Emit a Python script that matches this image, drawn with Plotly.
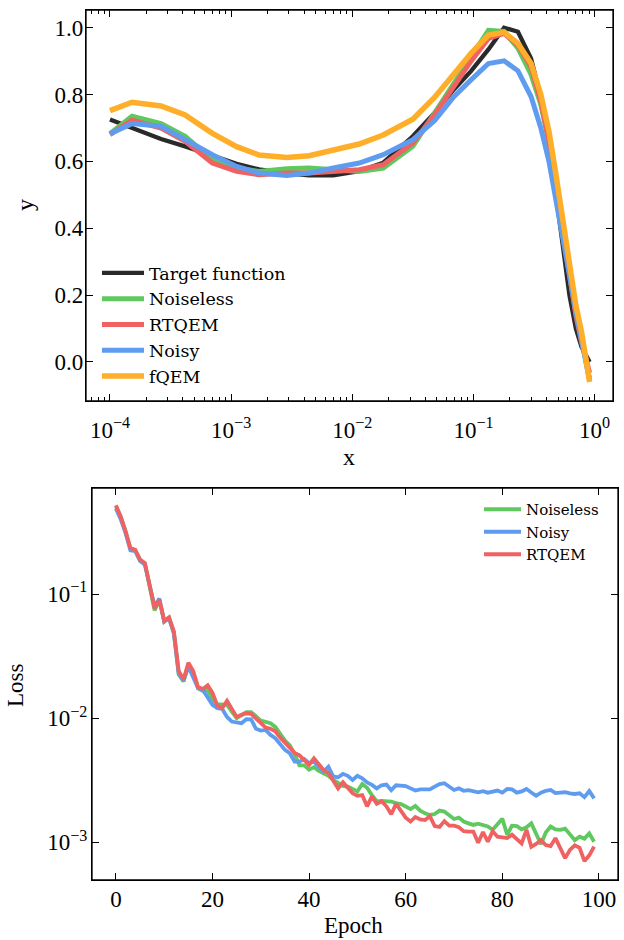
import plotly.graph_objects as go

# ---------------- Top panel data ----------------
x_vals = [1.0e-4, 1.52e-4, 2.64e-4, 4.17e-4, 7.0e-4, 1.11e-3, 1.70e-3, 2.88e-3, 4.41e-3,
          6.97e-3, 1.14e-2, 1.80e-2, 3.16e-2, 4.79e-2, 6.92e-2, 9.55e-2, 0.133, 0.179,
          0.233, 0.299, 0.36, 0.42, 0.48, 0.55, 0.62, 0.70, 0.78, 0.85, 0.91]
target = [0.725, 0.700, 0.667, 0.645, 0.616, 0.593, 0.576, 0.564, 0.558, 0.558, 0.571,
          0.596, 0.675, 0.746, 0.816, 0.870, 0.935, 1.000, 0.988, 0.908, 0.79, 0.655,
          0.50, 0.35, 0.20, 0.10, 0.045, 0.02, 0.0]
noiseless = [0.683, 0.735, 0.713, 0.675, 0.605, 0.580, 0.570, 0.578, 0.580, 0.575, 0.570,
             0.580, 0.645, 0.745, 0.835, 0.915, 0.992, 0.989, 0.939, 0.86, 0.77, 0.66,
             0.53, 0.39, 0.26, 0.15, 0.07, 0.0, -0.053]
rtqem = [0.680, 0.723, 0.700, 0.660, 0.595, 0.570, 0.560, 0.565, 0.565, 0.570, 0.575,
         0.590, 0.655, 0.740, 0.825, 0.900, 0.968, 0.983, 0.948, 0.883, 0.78, 0.66,
         0.52, 0.375, 0.25, 0.14, 0.06, 0.01, -0.033]
noisy = [0.683, 0.713, 0.705, 0.665, 0.620, 0.585, 0.565, 0.558, 0.565, 0.580, 0.595,
         0.620, 0.665, 0.722, 0.794, 0.844, 0.893, 0.901, 0.871, 0.794, 0.70, 0.60,
         0.49, 0.37, 0.26, 0.15, 0.07, 0.0, -0.055]
fqem = [0.752, 0.777, 0.766, 0.739, 0.684, 0.644, 0.619, 0.612, 0.617, 0.632, 0.652,
        0.679, 0.726, 0.792, 0.862, 0.923, 0.978, 0.986, 0.953, 0.893, 0.80, 0.69,
        0.56, 0.42, 0.29, 0.17, 0.09, 0.01, -0.06]

x_tickvals = [1e-4, 1e-3, 1e-2, 1e-1, 1e0]
x_ticktext = ["10<sup>\u22124</sup>", "10<sup>\u22123</sup>", "10<sup>\u22122</sup>",
              "10<sup>\u22121</sup>", "10<sup>0</sup>"]
y_tickvals = [0.0, 0.2, 0.4, 0.6, 0.8, 1.0]
y_ticktext = ["0.0", "0.2", "0.4", "0.6", "0.8", "1.0"]

# ---------------- Bottom panel data ----------------
epochs = list(range(100))
loss_noiseless = [0.51, 0.42, 0.32, 0.232, 0.226, 0.188, 0.176, 0.118, 0.074, 0.089,
                  0.060, 0.064, 0.049, 0.0225, 0.0198, 0.027, 0.0235, 0.0174, 0.0166, 0.0170,
                  0.0141, 0.0130, 0.0128, 0.0128, 0.0113, 0.0100, 0.0106, 0.0112, 0.0112, 0.0104,
                  0.00955, 0.00933, 0.00912, 0.00851, 0.00741, 0.00661, 0.00603, 0.00513, 0.00417, 0.00417,
                  0.00385, 0.00403, 0.00376, 0.00361, 0.00343, 0.00318, 0.00302, 0.00285, 0.00281, 0.00266,
                  0.00257, 0.00295, 0.00275, 0.00240, 0.00214, 0.00215, 0.00215, 0.00213, 0.00207, 0.00203,
                  0.00194, 0.00185, 0.00196, 0.00180, 0.00171, 0.00166, 0.00169, 0.00180, 0.00177, 0.00166,
                  0.00154, 0.00158, 0.00147, 0.00142, 0.00138, 0.00141, 0.00137, 0.00134, 0.00126, 0.00141,
                  0.00155, 0.00115, 0.00136, 0.00135, 0.00127, 0.00132, 0.00142, 0.00117, 0.000966, 0.00120,
                  0.00134, 0.00127, 0.00126, 0.00129, 0.00117, 0.00104, 0.00111, 0.00107, 0.00118, 0.00101]
loss_noisy = [0.49, 0.40, 0.31, 0.225, 0.222, 0.185, 0.172, 0.118, 0.080, 0.092,
              0.060, 0.064, 0.048, 0.023, 0.020, 0.026, 0.021, 0.0175, 0.0169, 0.0145,
              0.0128, 0.01205, 0.01189, 0.01023, 0.0094, 0.00923, 0.00912, 0.00982, 0.00977, 0.00822,
              0.00794, 0.00804, 0.00733, 0.00690, 0.00610, 0.00555, 0.00522, 0.00447, 0.00447, 0.00468,
              0.00434, 0.00447, 0.00407, 0.00372, 0.00407, 0.00339, 0.00334, 0.00356, 0.00343, 0.00318,
              0.00343, 0.00328, 0.00303, 0.00290, 0.00272, 0.00288, 0.00292, 0.00263, 0.00288, 0.00284,
              0.00284, 0.00272, 0.00261, 0.00267, 0.00269, 0.00267, 0.00281, 0.00294, 0.00299, 0.00281,
              0.00264, 0.00272, 0.00260, 0.00263, 0.00256, 0.00253, 0.00258, 0.00251, 0.00256, 0.00261,
              0.00251, 0.00269, 0.00267, 0.00251, 0.00257, 0.00269, 0.00252, 0.00237, 0.00251, 0.00260,
              0.00264, 0.00249, 0.00251, 0.00253, 0.00248, 0.00245, 0.00248, 0.00231, 0.00259, 0.00226]
loss_rtqem = [0.52, 0.42, 0.32, 0.235, 0.228, 0.190, 0.178, 0.120, 0.077, 0.090,
              0.061, 0.065, 0.050, 0.024, 0.0205, 0.028, 0.024, 0.0178, 0.0172, 0.0184,
              0.0160, 0.0126, 0.0120, 0.0138, 0.01167, 0.01023, 0.01064, 0.01096, 0.01084, 0.0100,
              0.00923, 0.00841, 0.00822, 0.00785, 0.00700, 0.00631, 0.00575, 0.00525, 0.00501, 0.00457,
              0.00421, 0.00475, 0.00421, 0.00383, 0.00361, 0.00318, 0.00272, 0.00305, 0.00272, 0.00248,
              0.00237, 0.00240, 0.00195, 0.00234, 0.00204, 0.00214, 0.00195, 0.00168, 0.00204, 0.00180,
              0.00158, 0.00147, 0.00160, 0.00153, 0.00151, 0.00162, 0.00135, 0.00133, 0.00148, 0.00136,
              0.00136, 0.00132, 0.00123, 0.00122, 0.00122, 0.00099, 0.00121, 0.00101, 0.00123, 0.00111,
              0.00110, 0.00108, 0.00115, 0.00106, 0.00098, 0.00126, 0.00092, 0.00097, 0.00104, 0.00095,
              0.00093, 0.00108, 0.00088, 0.000745, 0.000867, 0.000944, 0.000902, 0.000705, 0.000785, 0.000923]

loss_tickvals = [1e-3, 1e-2, 1e-1]
loss_ticktext = ["10<sup>\u22123</sup>", "10<sup>\u22122</sup>", "10<sup>\u22121</sup>"]
epoch_tickvals = [0, 20, 40, 60, 80, 100]

# ---------------- Styles ----------------
C_TARGET = "#2a2a2a"
C_GREEN = "#5fc85f"
C_RED = "#f06262"
C_BLUE = "#5f9cf0"
C_ORANGE = "#ffae2a"
FONT = "Liberation Serif"
LEGFONT = "DejaVu Serif"

minor_x = [m * 10.0 ** p for p in range(-5, 1) for m in range(2, 10)]

fig = go.Figure()
top = [("Target function", target, C_TARGET, 4.3),
       ("Noiseless", noiseless, C_GREEN, 5.0),
       ("RTQEM", rtqem, C_RED, 5.0),
       ("Noisy", noisy, C_BLUE, 5.0),
       ("fQEM", fqem, C_ORANGE, 5.5)]
for name, ys, col, w in top:
    fig.add_trace(go.Scatter(x=x_vals, y=ys, mode="lines", name=name,
                             line=dict(color=col, width=w),
                             xaxis="x", yaxis="y", legend="legend"))

bottom = [("Noiseless", loss_noiseless, C_GREEN),
          ("Noisy", loss_noisy, C_BLUE),
          ("RTQEM", loss_rtqem, C_RED)]
for name, ys, col in bottom:
    fig.add_trace(go.Scatter(x=epochs, y=ys, mode="lines", name=name,
                             line=dict(color=col, width=3.8),
                             xaxis="x2", yaxis="y2", legend="legend2"))

# empty helper traces so the mirrored (top / right) tick axes are drawn
for xa, ya in [("x3", "y"), ("x", "y3"), ("x4", "y2"), ("x2", "y4")]:
    fig.add_trace(go.Scatter(x=[], y=[], xaxis=xa, yaxis=ya, showlegend=False,
                             hoverinfo="skip"))

W, H = 624, 940
axis_common = dict(showline=True, linecolor="black", linewidth=1.3, mirror=True,
                   ticks="inside", ticklen=7, tickwidth=1.2, tickcolor="black",
                   showgrid=False, zeroline=False, automargin=False,
                   tickfont=dict(family=FONT, size=23, color="black"))
mirror_common = dict(showline=False, ticks="inside", ticklen=7, tickwidth=1.2,
                     tickcolor="black", showgrid=False, zeroline=False,
                     automargin=False, showticklabels=False)
minor_log = dict(tickmode="array", tickvals=minor_x, ticks="inside", ticklen=3.5,
                 tickwidth=1, tickcolor="black", showgrid=False)

frame = dict(type="rect", x0=0, x1=1, y0=0, y1=1, layer="above",
             line=dict(color="black", width=1.3), fillcolor="rgba(0,0,0,0)")

fig.update_layout(
    width=W, height=H, margin=dict(l=0, r=0, t=0, b=0, autoexpand=False),
    paper_bgcolor="white", plot_bgcolor="white",
    font=dict(family=FONT, size=23, color="black"),
    xaxis=dict(domain=[86 / W, 613 / W], anchor="y", type="log", range=[-4.198, 0.152],
               tickmode="array", tickvals=x_tickvals, ticktext=x_ticktext,
               ticklabelstandoff=8, minor=minor_log, **axis_common),
    yaxis=dict(domain=[1 - 401 / H, 1 - 10 / H], anchor="x", range=[-0.117, 1.053],
               tickmode="array", tickvals=y_tickvals, ticktext=y_ticktext,
               ticklabelstandoff=-3, **axis_common),
    xaxis3=dict(overlaying="x", side="top", anchor="y", type="log", range=[-4.198, 0.152],
                tickmode="array", tickvals=x_tickvals, minor=minor_log, **mirror_common),
    yaxis3=dict(overlaying="y", side="right", anchor="x", range=[-0.117, 1.053],
                tickmode="array", tickvals=y_tickvals, **mirror_common),
    xaxis2=dict(domain=[92 / W, 618 / W], anchor="y2", range=[-4.95, 103.95],
                tickmode="array", tickvals=epoch_tickvals, ticklabelstandoff=-2,
                **axis_common),
    yaxis2=dict(domain=[1 - 880 / H, 1 - 488 / H], anchor="x2", type="log",
                range=[-3.304, -0.145], tickmode="array", tickvals=loss_tickvals,
                ticktext=loss_ticktext, ticklabelstandoff=-1, **axis_common),
    xaxis4=dict(overlaying="x2", side="top", anchor="y2", range=[-4.95, 103.95],
                tickmode="array", tickvals=epoch_tickvals, **mirror_common),
    yaxis4=dict(overlaying="y2", side="right", anchor="x2", type="log",
                range=[-3.304, -0.145], tickmode="array", tickvals=loss_tickvals,
                **mirror_common),
    legend=dict(x=97 / W, y=1 - 255 / H, xanchor="left", yanchor="top",
                bgcolor="rgba(0,0,0,0)", borderwidth=0, itemwidth=42,
                font=dict(family=LEGFONT, size=17.5, color="black"), tracegroupgap=0),
    legend2=dict(x=479 / W, y=1 - 493 / H, xanchor="left", yanchor="top",
                 bgcolor="rgba(0,0,0,0)", borderwidth=0, itemwidth=37,
                 font=dict(family=LEGFONT, size=15, color="black"), tracegroupgap=0),
    showlegend=True,
    shapes=[dict(frame, xref="x domain", yref="y domain"),
            dict(frame, xref="x2 domain", yref="y2 domain")],
    annotations=[
        dict(text="x", x=349 / W, y=1 - 457 / H, xref="paper", yref="paper",
             xanchor="center", yanchor="middle",
             showarrow=False, font=dict(family=FONT, size=24)),
        dict(text="y", x=25 / W, y=1 - 205 / H, xref="paper", yref="paper",
             xanchor="center", yanchor="middle",
             showarrow=False, textangle=-90, font=dict(family=FONT, size=24)),
        dict(text="Epoch", x=353 / W, y=1 - 925 / H, xref="paper", yref="paper",
             xanchor="center", yanchor="middle",
             showarrow=False, font=dict(family=FONT, size=23)),
        dict(text="Loss", x=15 / W, y=1 - 685 / H, xref="paper", yref="paper",
             xanchor="center", yanchor="middle",
             showarrow=False, textangle=-90, font=dict(family=FONT, size=23)),
    ],
)

fig.write_html("out.html", config={"displayModeBar": False},
               post_script="document.body.style.margin='0';document.body.style.padding='0';")
